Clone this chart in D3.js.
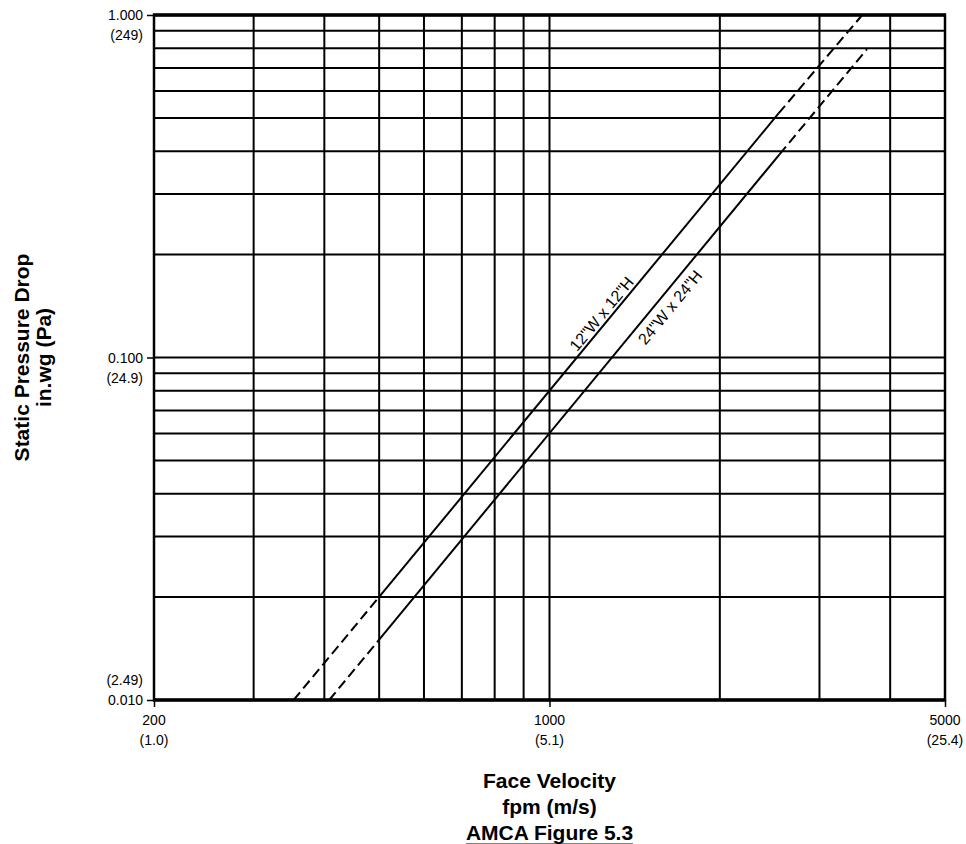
<!DOCTYPE html>
<html>
<head>
<meta charset="utf-8">
<script src="https://cdn.jsdelivr.net/npm/d3@7/dist/d3.min.js"></script>
<style>
  html, body { margin: 0; padding: 0; background: #fff; }
  svg { display: block; font-family: "Liberation Sans", Arial, Helvetica, sans-serif; }
</style>
</head>
<body>
<svg id="chart" width="966" height="844"></svg>
<script>
// ---- data ----
const xTickValues = [200, 1000, 5000];
const xTickMetric = ["(1.0)", "(5.1)", "(25.4)"];
const yTickValues = [1.0, 0.1, 0.01];
const yTickLabels = ["1.000", "0.100", "0.010"];
const yTickMetric = ["(249)", "(24.9)", "(2.49)"];
const xGridValues = [300, 400, 500, 600, 700, 800, 900, 1000, 2000, 3000, 4000];
const yGridValues = [0.02, 0.03, 0.04, 0.05, 0.06, 0.07, 0.08, 0.09, 0.1,
                     0.2, 0.3, 0.4, 0.5, 0.6, 0.7, 0.8, 0.9];

const seriesNames = ['12"W x 12"H', '24"W x 24"H'];
// points: [dashed start, solid start, solid end, dashed end]
const line12Velocity = [353, 500, 2540, 3570];
const line12Pressure = [0.010, 0.020, 0.516, 1.000];
const line24Velocity = [408, 500, 2550, 3640];
const line24Pressure = [0.010, 0.015, 0.392, 0.795];
const labelVelocity = [1236, 1633];
const labelPressure = [0.134, 0.140];

// ---- layout ----
const svg = d3.select("#chart");
const pLeft = 154, pRight = 945, pTop = 15, pBottom = 700;

const x = d3.scaleLog().domain([200, 5000]).range([pLeft, pRight]);
const y = d3.scaleLog().domain([0.01, 1.0]).range([pBottom, pTop]);

// grid
const g = svg.append("g");
g.selectAll("line.vg").data(xGridValues).join("line")
  .attr("x1", d => x(d)).attr("x2", d => x(d))
  .attr("y1", pTop).attr("y2", pBottom)
  .attr("stroke", "#000").attr("stroke-width", 2);
g.selectAll("line.hg").data(yGridValues).join("line")
  .attr("x1", pLeft).attr("x2", pRight)
  .attr("y1", d => y(d)).attr("y2", d => y(d))
  .attr("stroke", "#000").attr("stroke-width", 2);

// series
const seriesV = [line12Velocity, line24Velocity];
const seriesP = [line12Pressure, line24Pressure];
const lineGen = d3.line().x(d => x(d[0])).y(d => y(d[1]));
seriesV.forEach((vs, si) => {
  const ps = seriesP[si];
  const pts = vs.map((v, i) => [v, ps[i]]);
  const segs = [
    { pts: [pts[0], pts[1]], dash: "10,5" },
    { pts: [pts[1], pts[2]], dash: null },
    { pts: [pts[2], pts[3]], dash: "10,5" }
  ];
  segs.forEach(s => {
    svg.append("path").attr("d", lineGen(s.pts))
      .attr("fill", "none").attr("stroke", "#000").attr("stroke-width", 2)
      .attr("stroke-dasharray", s.dash);
  });
  const ang = Math.atan2(y(ps[2]) - y(ps[1]), x(vs[2]) - x(vs[1])) * 180 / Math.PI;
  const lx = x(labelVelocity[si]), ly = y(labelPressure[si]);
  svg.append("text")
    .attr("transform", `translate(${lx},${ly}) rotate(${ang})`)
    .attr("text-anchor", "middle").attr("dominant-baseline", "central")
    .attr("font-size", 16).attr("fill", "#000")
    .text(seriesNames[si]);
});

// frame
svg.append("rect").attr("x", pLeft).attr("y", pTop)
  .attr("width", pRight - pLeft).attr("height", pBottom - pTop)
  .attr("fill", "none").attr("stroke", "#000").attr("stroke-width", 2.5);
[pTop, pBottom].forEach(yy => svg.append("line")
  .attr("x1", pLeft - 1).attr("x2", pRight + 1).attr("y1", yy).attr("y2", yy)
  .attr("stroke", "#000").attr("stroke-width", 3.6));

// axes ticks
const xAxis = d3.axisBottom(x).tickValues(xTickValues).tickSize(7).tickFormat("");
const xa = svg.append("g").attr("transform", `translate(0,${pBottom})`).call(xAxis);
xa.select(".domain").remove();
xa.selectAll(".tick line").attr("stroke-width", 1.5);
const yAxis = d3.axisLeft(y).tickValues(yTickValues).tickSize(7).tickFormat("");
const ya = svg.append("g").attr("transform", `translate(${pLeft},0)`).call(yAxis);
ya.select(".domain").remove();
ya.selectAll(".tick line").attr("stroke-width", 1.5);

// x tick labels
xTickValues.forEach((v, i) => {
  svg.append("text").attr("x", x(v)).attr("y", 720).attr("text-anchor", "middle")
    .attr("dominant-baseline", "central").attr("font-size", 14).text(String(v));
  svg.append("text").attr("x", x(v)).attr("y", 740).attr("text-anchor", "middle")
    .attr("dominant-baseline", "central").attr("font-size", 14).text(xTickMetric[i]);
});
// y tick labels
yTickValues.forEach((v, i) => {
  const yy = y(v);
  const off = (i === yTickValues.length - 1) ? -20 : 20;
  svg.append("text").attr("x", 143).attr("y", yy).attr("text-anchor", "end")
    .attr("dominant-baseline", "central").attr("font-size", 14).text(yTickLabels[i]);
  svg.append("text").attr("x", 143).attr("y", yy + off).attr("text-anchor", "end")
    .attr("dominant-baseline", "central").attr("font-size", 14).text(yTickMetric[i]);
});

// axis titles
const cx = (pLeft + pRight) / 2;
const xt = [["Face Velocity", 780], ["fpm (m/s)", 806], ["AMCA Figure 5.3", 832]];
xt.forEach((t, i) => {
  const el = svg.append("text").attr("x", cx).attr("y", t[1]).attr("text-anchor", "middle")
    .attr("dominant-baseline", "central").attr("font-size", 21).attr("font-weight", "bold")
    .text(t[0]);
  if (i === 2) el.attr("text-decoration", "underline");
});
const cy = (pTop + pBottom) / 2;
[["Static Pressure Drop", 21], ["in.wg (Pa)", 43]].forEach(t => {
  svg.append("text").attr("transform", `translate(${t[1]},${cy}) rotate(-90)`)
    .attr("text-anchor", "middle").attr("dominant-baseline", "central")
    .attr("font-size", 21).attr("font-weight", "bold").text(t[0]);
});
</script>
</body>
</html>
